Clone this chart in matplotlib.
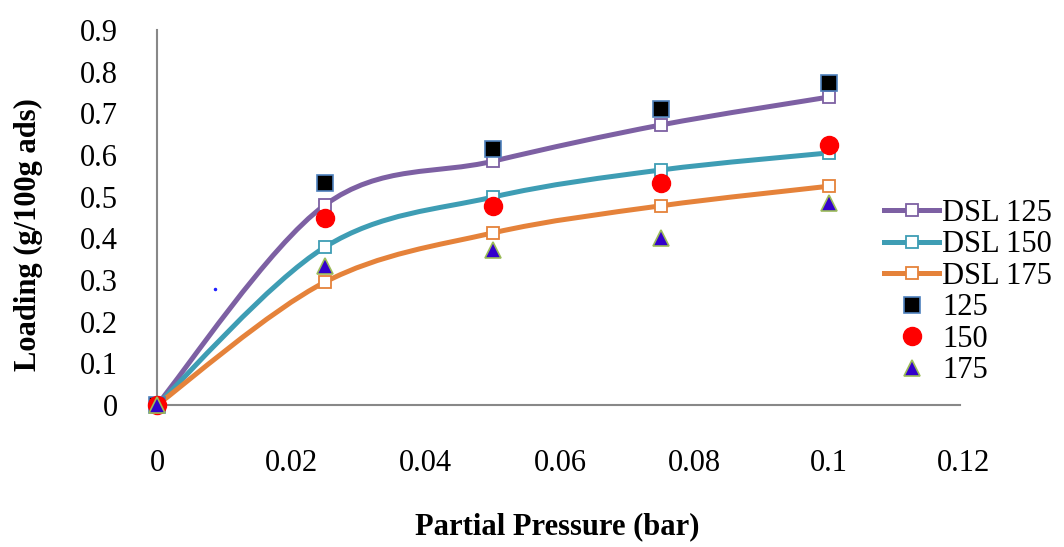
import matplotlib.pyplot as plt
import numpy as np
from matplotlib.path import Path
from matplotlib.patches import PathPatch
from matplotlib.lines import Line2D

# Dane
pressure = [0.0, 0.025, 0.05, 0.075, 0.1]

dsl_125 = [0.0, 0.48, 0.585, 0.672, 0.739]
dsl_150 = [0.0, 0.379, 0.499, 0.564, 0.605]
dsl_175 = [0.0, 0.295, 0.413, 0.478, 0.525]

exp_125 = [0.0, 0.533, 0.615, 0.71, 0.773]
exp_150 = [0.0, 0.449, 0.478, 0.533, 0.624]
exp_175 = [0.0, 0.334, 0.372, 0.40, 0.485]

# zablakany punkt na wykresie
stray_x = [0.0086]
stray_y = [0.278]

x_ticks = [0, 0.02, 0.04, 0.06, 0.08, 0.1, 0.12]
x_tick_labels = ['0', '0.02', '0.04', '0.06', '0.08', '0.1', '0.12']
y_ticks = [0, 0.1, 0.2, 0.3, 0.4, 0.5, 0.6, 0.7, 0.8, 0.9]
y_tick_labels = ['0', '0.1', '0.2', '0.3', '0.4', '0.5', '0.6', '0.7', '0.8', '0.9']

c_125 = '#7D60A3'
c_150 = '#3E9DB4'
c_175 = '#E5823A'

plt.rcParams['font.family'] = ['Liberation Serif', 'DejaVu Serif']


def smooth_path(xs, ys):
    # wygladzona linia jak w Excelu (krzywe Beziera przez punkty)
    pts = np.column_stack([xs, ys])
    n = len(pts)
    verts = [pts[0]]
    codes = [Path.MOVETO]
    for i in range(n - 1):
        p_prev = pts[i - 1] if i > 0 else pts[i]
        p_next2 = pts[i + 2] if i + 2 < n else pts[i + 1]
        c1 = pts[i] + (pts[i + 1] - p_prev) / 6
        c2 = pts[i + 1] - (p_next2 - pts[i]) / 6
        verts += [c1, c2, pts[i + 1]]
        codes += [Path.CURVE4] * 3
    return Path(verts, codes)


fig = plt.figure(figsize=(10.64, 5.47), dpi=100)
ax = fig.add_axes([157 / 1064, 1 - 405 / 547, (963 - 157) / 1064, (405 - 30) / 547])

# Linie modelu DSL
for ys, col in [(dsl_125, c_125), (dsl_150, c_150), (dsl_175, c_175)]:
    patch = PathPatch(smooth_path(pressure, ys), facecolor='none', edgecolor=col,
                      lw=3.6, capstyle='round', zorder=2)
    ax.add_patch(patch)
    ax.plot(pressure, ys, ls='none', marker='s', ms=8, mfc='white', mec=col,
            mew=1.3, zorder=3, clip_on=False)

# Dane pomiarowe
ax.plot(pressure, exp_125, ls='none', marker='s', ms=12, mfc='black',
        mec='#4F81BD', mew=1.2, zorder=4, clip_on=False)
ax.plot(pressure, exp_150, ls='none', marker='o', ms=13, mfc='#FF0000',
        mec='#FF0000', mew=1, zorder=4, clip_on=False)
ax.plot(pressure, exp_175, ls='none', marker='^', ms=12, mfc='#3300CC',
        mec='#9BBB59', mew=1.2, zorder=5, clip_on=False)
ax.plot(stray_x, stray_y, ls='none', marker='.', ms=3, color='#2020FF', zorder=4)

# Osie
ax.set_xlim(0, 0.12)
ax.set_ylim(0, 0.9)
ax.set_xticks(x_ticks)
ax.set_xticklabels(x_tick_labels, fontsize=22)
ax.set_yticks(y_ticks)
ax.set_yticklabels(y_tick_labels, fontsize=22)
ax.tick_params(axis='both', length=0)
ax.tick_params(axis='x', pad=32)
ax.tick_params(axis='y', pad=28)
for s in ['top', 'right']:
    ax.spines[s].set_visible(False)
for s in ['left', 'bottom']:
    ax.spines[s].set_color('#888888')
    ax.spines[s].set_linewidth(1.5)
ax.spines['bottom'].set_bounds(0, 0.1195)

fig.text(557 / 1064, 1 - 527 / 547, 'Partial Pressure (bar)', fontsize=22,
         fontweight='bold', ha='center', va='center')
fig.text(28 / 1064, 1 - 235 / 547, 'Loading (g/100g ads)', fontsize=22,
         fontweight='bold', ha='center', va='center', rotation=90)

# Legenda
handles = [
    Line2D([], [], color=c_125, lw=3.6, marker='s', ms=8, mfc='white', mec=c_125, mew=1.3),
    Line2D([], [], color=c_150, lw=3.6, marker='s', ms=8, mfc='white', mec=c_150, mew=1.3),
    Line2D([], [], color=c_175, lw=3.6, marker='s', ms=8, mfc='white', mec=c_175, mew=1.3),
    Line2D([], [], ls='none', marker='s', ms=12, mfc='black', mec='#4F81BD', mew=1.2),
    Line2D([], [], ls='none', marker='o', ms=13, mfc='#FF0000', mec='#FF0000'),
    Line2D([], [], ls='none', marker='^', ms=12, mfc='#3300CC', mec='#9BBB59', mew=1.2),
]
labels = ['DSL 125', 'DSL 150', 'DSL 175', '125', '150', '175']
fig.legend(handles, labels, loc='upper left', bbox_to_anchor=(884 / 1064, 1 - 199 / 547),
           frameon=False, fontsize=22, handlelength=1.8, handletextpad=0.1,
           labelspacing=0.08, borderpad=0, borderaxespad=0)

plt.savefig('out.png', dpi=100)
